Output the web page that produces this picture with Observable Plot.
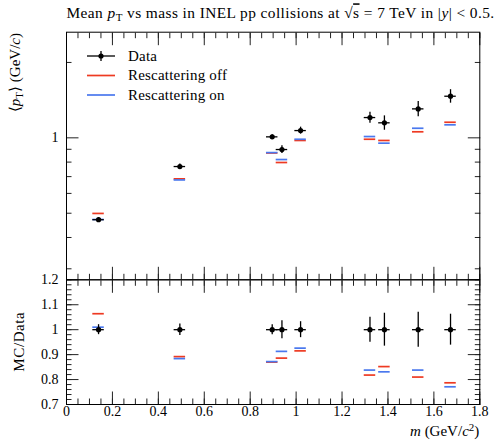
<!DOCTYPE html>
<html><head><meta charset="utf-8">
<script src="https://cdn.jsdelivr.net/npm/d3@7"></script>
<script src="https://cdn.jsdelivr.net/npm/@observablehq/plot@0.6"></script>
<style>
body{margin:0;background:#fff;}
#chart{position:relative;width:496px;height:441px;}
#chart svg{position:absolute;left:0;top:0;overflow:visible;}
#chart svg text{font-family:"Liberation Serif","Times New Roman",serif;}
</style></head><body><div id="chart"></div>
<script>
// ---- data ----
const particles = ["π", "K", "K*0", "p", "φ", "Ξ", "Σ*", "Ξ*", "Ω"];
const mass = [0.1396, 0.4937, 0.8959, 0.9383, 1.0195, 1.3217, 1.3846, 1.5318, 1.6725];
const dataMeanPt = [0.471, 0.768, 1.009, 0.898, 1.069, 1.205, 1.148, 1.305, 1.466];
const dataRelErr = [0.02, 0.023, 0.02, 0.036, 0.032, 0.05, 0.066, 0.07, 0.062];
const offMeanPt = [0.499, 0.686, 0.870, 0.797, 0.976, 0.987, 0.976, 1.057, 1.154];
const onMeanPt = [0.472, 0.679, 0.873, 0.819, 0.987, 1.012, 0.952, 1.092, 1.127];
const offRatio = [1.064, 0.892, 0.870, 0.886, 0.915, 0.818, 0.852, 0.810, 0.787];
const onRatio = [1.010, 0.884, 0.872, 0.913, 0.926, 0.838, 0.831, 0.838, 0.771];
const binHalfWidth = 0.025;

const xTickLabels = [0, 0.2, 0.4, 0.6, 0.8, 1, 1.2, 1.4, 1.6, 1.8];
const yUpperLabels = [1];
const yUpperMinor = [0.3, 0.4, 0.5, 0.6, 0.7, 0.8, 0.9, 2];
const yLowerLabels = [0.7, 0.8, 0.9, 1, 1.1, 1.2];

const seriesNames = ["Data", "Rescattering off", "Rescattering on"];
const colors = {off: "#ee3a22", on: "#4a78ee"};

// ---- layout ----
const W = 496, H = 441, L = 66, R = 479.3, T = 31.7, MID = 279.3, B = 404;
const FONT = "Liberation Serif";
const xMinor = d3.range(0, 36.5).map(i => +(i * 0.05).toFixed(2));
const yLowerMinor = d3.range(35, 60.5).map(i => +(i * 0.02).toFixed(2));

const rows = mass.map((m, i) => ({
  name: particles[i], m, x1: m - binHalfWidth, x2: m + binHalfWidth,
  d: dataMeanPt[i], dlo: dataMeanPt[i] * (1 - dataRelErr[i]), dhi: dataMeanPt[i] * (1 + dataRelErr[i]),
  off: offMeanPt[i], on: onMeanPt[i],
  rOff: offRatio[i], rOn: onRatio[i], rlo: 1 - dataRelErr[i], rhi: 1 + dataRelErr[i]
}));

const blank = () => "";
const tickStroke = "#222";

function frameTicks(minorY, majorY, yLabels) {
  return [
    Plot.axisX({anchor: "bottom", ticks: xMinor, tickSize: -5.5, tickFormat: blank, label: null, stroke: tickStroke}),
    Plot.axisX({anchor: "bottom", ticks: xTickLabels, tickSize: -12.5, tickFormat: blank, label: null, stroke: tickStroke}),
    Plot.axisX({anchor: "top", ticks: xMinor, tickSize: -5.5, tickFormat: blank, label: null, stroke: tickStroke}),
    Plot.axisX({anchor: "top", ticks: xTickLabels, tickSize: -12.5, tickFormat: blank, label: null, stroke: tickStroke}),
    Plot.axisY({anchor: "left", ticks: minorY, tickSize: -5.5, tickFormat: blank, label: null, stroke: tickStroke}),
    Plot.axisY({anchor: "left", ticks: majorY, tickSize: -12.5, tickFormat: blank, label: null, stroke: tickStroke}),
    Plot.axisY({anchor: "right", ticks: minorY, tickSize: -5.5, tickFormat: blank, label: null, stroke: tickStroke}),
    Plot.axisY({anchor: "right", ticks: majorY, tickSize: -12.5, tickFormat: blank, label: null, stroke: tickStroke}),
    Plot.axisY({anchor: "left", ticks: yLabels, tickSize: 0, tickPadding: 8, tickFormat: d3.format("~g"), label: null, fontSize: 14, fontFamily: FONT})
  ];
}

const upper = Plot.plot({
  width: W, height: H,
  marginLeft: L, marginRight: W - R, marginTop: T, marginBottom: H - MID,
  style: {fontFamily: FONT, fontSize: "14px", color: "#000", background: "transparent"},
  x: {domain: [0, 1.8]},
  y: {type: "log", domain: [0.2711, 2.641]},
  marks: [
    ...frameTicks(yUpperMinor, yUpperLabels, yUpperLabels),
    Plot.ruleY(rows, {y: "off", x1: "x1", x2: "x2", stroke: colors.off, strokeWidth: 1.7}),
    Plot.ruleY(rows, {y: "on", x1: "x1", x2: "x2", stroke: colors.on, strokeWidth: 1.7}),
    Plot.ruleY(rows, {y: "d", x1: "x1", x2: "x2", stroke: "#000", strokeWidth: 1.3}),
    Plot.ruleX(rows, {x: "m", y1: "dlo", y2: "dhi", stroke: "#000", strokeWidth: 1.3}),
    Plot.dot(rows, {x: "m", y: "d", r: 2.6, fill: "#000", stroke: "none"}),
    Plot.frame({stroke: "#000", strokeWidth: 1})
  ]
});

const lower = Plot.plot({
  width: W, height: H,
  marginLeft: L, marginRight: W - R, marginTop: MID, marginBottom: H - B,
  style: {fontFamily: FONT, fontSize: "14px", color: "#000", background: "transparent"},
  x: {domain: [0, 1.8]},
  y: {domain: [0.7, 1.2]},
  marks: [
    ...frameTicks(yLowerMinor, yLowerLabels, yLowerLabels),
    Plot.axisX({anchor: "bottom", ticks: xTickLabels, tickSize: 0, tickPadding: 2, tickFormat: d3.format("~g"), label: null, fontSize: 14, fontFamily: FONT}),
    Plot.ruleY(rows, {y: "rOff", x1: "x1", x2: "x2", stroke: colors.off, strokeWidth: 1.7}),
    Plot.ruleY(rows, {y: "rOn", x1: "x1", x2: "x2", stroke: colors.on, strokeWidth: 1.7}),
    Plot.ruleY(rows, {y: 1, x1: "x1", x2: "x2", stroke: "#000", strokeWidth: 1.3}),
    Plot.ruleX(rows, {x: "m", y1: "rlo", y2: "rhi", stroke: "#000", strokeWidth: 1.3}),
    Plot.dot(rows, {x: "m", y: 1, r: 2.6, fill: "#000", stroke: "none"}),
    Plot.frame({stroke: "#000", strokeWidth: 1})
  ]
});

const chart = document.getElementById("chart");
chart.append(lower, upper);
// make sure Plot's tick labels use the serif face
for (const p of [upper, lower]) {
  d3.select(p).selectAll("text")
    .style("font-family", "'Liberation Serif', 'Times New Roman', serif")
    .style("font-variant", "normal")
    .style("font-size", "14px");
}

// ---- text overlay: title, axis labels, legend ----
const svg = d3.select(chart).append("svg").attr("width", W).attr("height", H)
  .style("font-size", "15px");

function sub(t, s, size = 11) {
  t.append("tspan").attr("dy", 3).attr("font-size", size).text(s);
  return t.append("tspan").attr("dy", -3);
}

// title
{
  const t = svg.append("text").attr("x", 66.5).attr("y", 18.3).attr("font-size", 15.4).attr("letter-spacing", 0.42);
  t.append("tspan").text("Mean ");
  t.append("tspan").attr("font-style", "italic").text("p");
  sub(t, "T").text(" vs mass in INEL pp collisions at √");
  t.append("tspan").style("text-decoration", "overline").text("s");
  t.append("tspan").text(" = 7 TeV in |");
  t.append("tspan").attr("font-style", "italic").text("y");
  t.append("tspan").text("| < 0.5.");
}
// y label upper
{
  const t = svg.append("text").attr("transform", "translate(20,33) rotate(-90)").attr("text-anchor", "end");
  t.append("tspan").text("⟨");
  t.append("tspan").attr("font-style", "italic").text("p");
  sub(t, "T").text("⟩ (GeV/");
  t.append("tspan").attr("font-style", "italic").text("c");
  t.append("tspan").text(")");
}
// y label lower
svg.append("text").attr("transform", `translate(24,${(MID + B) / 2}) rotate(-90)`).attr("text-anchor", "middle")
  .attr("letter-spacing", 0.6).text("MC/Data");
// x label
{
  const t = svg.append("text").attr("x", R).attr("y", 436).attr("text-anchor", "end");
  t.append("tspan").attr("font-style", "italic").text("m");
  t.append("tspan").text(" (GeV/");
  t.append("tspan").attr("font-style", "italic").text("c");
  t.append("tspan").attr("dy", -5).attr("font-size", 11).text("2");
  t.append("tspan").attr("dy", 5).text(")");
}
// legend
const legY = [56, 75.5, 95];
const legStroke = ["#000", colors.off, colors.on];
seriesNames.forEach((name, i) => {
  svg.append("line").attr("x1", 87).attr("x2", 115).attr("y1", legY[i]).attr("y2", legY[i])
    .attr("stroke", legStroke[i]).attr("stroke-width", i ? 1.7 : 1.3);
  svg.append("text").attr("x", 128).attr("y", legY[i] + 4.5).attr("letter-spacing", 0.2).text(name);
});
svg.append("line").attr("x1", 101).attr("x2", 101).attr("y1", legY[0] - 5).attr("y2", legY[0] + 5).attr("stroke", "#000").attr("stroke-width", 1.3);
svg.append("circle").attr("cx", 101).attr("cy", legY[0]).attr("r", 2.6).attr("fill", "#000");
</script></body></html>
